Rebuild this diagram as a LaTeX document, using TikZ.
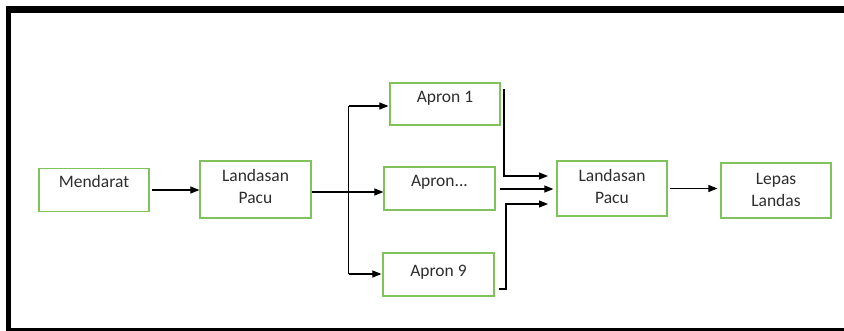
\documentclass[tikz,border=0pt]{standalone}
\usepackage{fontspec}
\setmainfont{Carlito}
\usetikzlibrary{arrows.meta}
\definecolor{boxgreen}{RGB}{128,194,92}
\definecolor{txt}{RGB}{45,45,45}
\begin{document}
\begin{tikzpicture}[x=1pt,y=-1pt,
  box/.style={draw=boxgreen,line width=1.2pt,inner sep=0pt},
  lbl/.style={anchor=base,align=center,inner sep=0pt,text=txt,font=\fontsize{17.5}{21.5}\selectfont},
  arr/.style={line width=1.1pt,-{Triangle[length=9pt,width=7pt]}},
  ln/.style={line width=1.1pt}]
\useasboundingbox (0,0) rectangle (844,331);
% frame
\fill (6,6) rectangle (844,13);
\fill (6,6) rectangle (11,331);
\fill (6,328) rectangle (844,331);
% boxes
\node[box,minimum width=110pt,minimum height=43pt] (m) at (94,190) {};
\node[lbl] (mt) at (94,188) {Mendarat};
\node[box,minimum width=111pt,minimum height=57pt] (lp1) at (255.5,189.5) {};
\node[lbl] (lp1t) at (255.5,203.2) {Landasan\\Pacu};
\node[box,minimum width=110pt,minimum height=42pt] (ap1) at (445,104) {};
\node[lbl] (ap1t) at (445,103) {Apron 1};
\node[box,minimum width=111pt,minimum height=43pt] (apm) at (439.5,188.5) {};
\node[lbl] (apmt) at (439.5,187) {Apron...};
\node[box,minimum width=111pt,minimum height=43pt] (ap9) at (438.5,274.5) {};
\node[lbl] (ap9t) at (438.5,277) {Apron 9};
\node[box,minimum width=110pt,minimum height=55pt] (lp2) at (612,188.5) {};
\node[lbl] (lp2t) at (612,203.2) {Landasan\\Pacu};
\node[box,minimum width=110pt,minimum height=55pt] (lep) at (776,190.5) {};
\node[lbl] (lept) at (776,206.5) {Lepas\\Landas};
% connectors
\draw[arr] ([xshift=2pt]m.east) -- (lp1.west |- m.east);
\coordinate (fork) at (348.5,192);
\coordinate (ftop) at (348.5,106);
\coordinate (fbot) at (348.5,274);
\draw[ln] (lp1.east |- fork) -- (fork);
\draw[arr] (fork) -- (apm.west |- fork);
\draw[ln] (ftop) -- (fbot);
\draw[arr] (ftop) -- ([xshift=-1pt]ap1.west |- ftop);
\draw[arr] (fbot) -- ([xshift=-1pt]ap9.west |- fbot);
\coordinate (s1) at (504,89);
\coordinate (e1) at (548,176);
\draw[arr] (s1) |- (e1);
\coordinate (s2) at (500,189);
\draw[arr,shorten >=3pt] (s2) -- (lp2.west |- s2);
\coordinate (s3) at (499,289);
\coordinate (k3) at (506,289);
\coordinate (e3) at (548,204);
\draw[arr] (s3) -- (k3) |- (e3);
\draw[arr] ([xshift=2pt]lp2.east) -- ([xshift=-3pt]lep.west |- lp2.east);
\end{tikzpicture}
\end{document}
